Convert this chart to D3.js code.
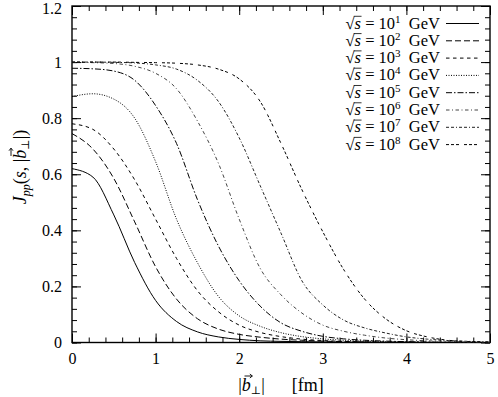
<!DOCTYPE html>
<html>
<head>
<meta charset="utf-8">
<script src="https://cdn.jsdelivr.net/npm/d3@7"></script>
<style>
  body { margin: 0; background: #fff; }
  svg text { font-family: "Liberation Serif", "DejaVu Serif", serif !important; fill: #000; }
</style>
</head>
<body>
<div id="chart"></div>
<script>
// impact parameter grid [fm]
const bValues = [0, 0.25, 0.5, 0.75, 1, 1.25, 1.5, 1.75, 2, 2.25, 2.5, 2.75, 3, 3.25, 3.5, 3.75, 4, 4.25, 4.5, 4.75, 5];

// J_pp(s, |b|), one array per energy
const j1e1 = [0.62, 0.59, 0.455, 0.285, 0.15, 0.075, 0.038, 0.02, 0.011, 0.006, 0.004, 0.003, 0.002, 0.001, 0.001, 0, 0, 0, 0, 0, 0];
const j1e2 = [0.745, 0.69, 0.585, 0.43, 0.27, 0.155, 0.085, 0.048, 0.029, 0.019, 0.012, 0.008, 0.005, 0.003, 0.002, 0.001, 0.001, 0, 0, 0, 0];
const j1e3 = [0.78, 0.76, 0.69, 0.58, 0.44, 0.3, 0.185, 0.11, 0.062, 0.036, 0.021, 0.012, 0.007, 0.004, 0.002, 0.001, 0.001, 0, 0, 0, 0];
const j1e4 = [0.877, 0.887, 0.868, 0.8, 0.645, 0.44, 0.285, 0.165, 0.095, 0.058, 0.035, 0.021, 0.013, 0.008, 0.005, 0.003, 0.002, 0.001, 0.001, 0, 0];
const j1e5 = [0.978, 0.976, 0.968, 0.935, 0.845, 0.71, 0.51, 0.345, 0.22, 0.13, 0.07, 0.04, 0.022, 0.013, 0.008, 0.005, 0.003, 0.002, 0.001, 0.001, 0];
const j1e6 = [0.999, 0.998, 0.995, 0.985, 0.96, 0.905, 0.79, 0.64, 0.44, 0.265, 0.17, 0.105, 0.062, 0.04, 0.026, 0.016, 0.01, 0.006, 0.004, 0.002, 0.001];
const j1e7 = [1.0, 1.0, 0.999, 0.997, 0.99, 0.975, 0.935, 0.86, 0.73, 0.56, 0.39, 0.22, 0.134, 0.08, 0.052, 0.034, 0.02, 0.012, 0.007, 0.004, 0.002];
const j1e8 = [1.0, 1.0, 1.0, 0.999, 0.998, 0.996, 0.99, 0.975, 0.94, 0.86, 0.71, 0.545, 0.395, 0.26, 0.155, 0.085, 0.042, 0.02, 0.008, 0.003, 0.001];

const exponents = ["1", "2", "3", "4", "5", "6", "7", "8"];
const seriesValues = [j1e1, j1e2, j1e3, j1e4, j1e5, j1e6, j1e7, j1e8];

const xTicks = [0, 1, 2, 3, 4, 5];
const yTicks = [0, 0.2, 0.4, 0.6, 0.8, 1, 1.2];

// line styles for each energy
const dashes = ["none", "6,3", "3.5,3.5", "1,1.5", "6,2,1.5,2", "3.5,2.5,1,2.5", "3,2,3,2,1,2", "3,2,3,2,3,5"];
const strokes = ["#000", "#000", "#000", "#000", "#000", "#444", "#222", "#000"];

const width = 498, height = 397;
const margin = { top: 6, right: 8, bottom: 54.5, left: 72 };
const innerW = width - margin.left - margin.right;
const innerH = height - margin.top - margin.bottom;

const svg = d3.select("#chart").append("svg")
  .attr("width", width)
  .attr("height", height)
  .attr("font-family", "Liberation Serif");

const chart = svg.append("g")
  .attr("transform", `translate(${margin.left},${margin.top})`);

const x = d3.scaleLinear().domain([0, 5]).range([0, innerW]);
const y = d3.scaleLinear().domain([0, 1.2]).range([innerH, 0]);

const xMinor = d3.range(0, 5.001, 0.2);
const yMinor = d3.range(0, 1.2001, 0.04);

// minor ticks on all four sides (pointing inward)
chart.append("g").attr("transform", `translate(0,${innerH})`)
  .call(d3.axisBottom(x).tickValues(xMinor).tickSize(-5).tickFormat(""));
chart.append("g")
  .call(d3.axisTop(x).tickValues(xMinor).tickSize(-5).tickFormat(""));
chart.append("g")
  .call(d3.axisLeft(y).tickValues(yMinor).tickSize(-5).tickFormat(""));
chart.append("g").attr("transform", `translate(${innerW},0)`)
  .call(d3.axisRight(y).tickValues(yMinor).tickSize(-5).tickFormat(""));

// major ticks + labels
chart.append("g").attr("class", "x-axis").attr("transform", `translate(0,${innerH})`)
  .call(d3.axisBottom(x).tickValues(xTicks).tickSize(-9).tickPadding(10).tickFormat(d3.format("d")));
chart.append("g")
  .call(d3.axisTop(x).tickValues(xTicks).tickSize(-9).tickFormat(""));
chart.append("g").attr("class", "y-axis")
  .call(d3.axisLeft(y).tickValues(yTicks).tickSize(-9).tickPadding(10).tickFormat(d => d === 0 || d === 1 ? String(d) : d.toFixed(1)));
chart.append("g").attr("transform", `translate(${innerW},0)`)
  .call(d3.axisRight(y).tickValues(yTicks).tickSize(-9).tickFormat(""));

chart.selectAll(".domain").remove();
chart.selectAll(".tick line").attr("stroke", "#000").attr("stroke-width", 1);
chart.selectAll("g").attr("font-family", null);
chart.selectAll(".tick text").style("font-size", "16px");
chart.select(".y-axis").selectAll(".tick text").filter(d => d === 1.2).attr("dy", "0.45em");

// frame
chart.append("rect")
  .attr("width", innerW).attr("height", innerH)
  .attr("fill", "none").attr("stroke", "#000").attr("stroke-width", 1.4);

// curves
const line = d3.line()
  .x((d, i) => x(bValues[i]))
  .y(d => y(d))
  .curve(d3.curveMonotoneX);

chart.selectAll(".curve")
  .data(seriesValues)
  .join("path")
  .attr("class", "curve")
  .attr("d", d => line(d))
  .attr("fill", "none")
  .attr("stroke", (d, i) => strokes[i])
  .attr("stroke-width", 1)
  .attr("stroke-dasharray", (d, i) => dashes[i]);

// legend
const legend = svg.append("g").attr("class", "legend");
const rowY = i => 23.5 + i * 17.3;
const legendFont = 16.5;

const labels = legend.selectAll(".legend-text")
  .data(exponents)
  .join("text")
  .attr("class", "legend-text")
  .attr("x", 440)
  .attr("y", (d, i) => rowY(i) + 5)
  .attr("text-anchor", "end")
  .style("font-size", legendFont + "px");
labels.append("tspan").text("\u221A");
labels.append("tspan").style("font-style", "italic").text("s");
labels.append("tspan").text(" = 10");
labels.append("tspan").attr("dy", -6).style("font-size", "11px").text(d => d);
labels.append("tspan").attr("dy", 6).text("\u2002GeV");

// radical bar over the s
labels.each(function (d, i) {
  const r = this.getExtentOfChar(0), s = this.getExtentOfChar(1);
  const yBar = rowY(i) + 5 - legendFont * 0.74;
  legend.append("line")
    .attr("x1", r.x + r.width - 0.8).attr("x2", s.x + s.width + 0.5)
    .attr("y1", yBar).attr("y2", yBar)
    .attr("stroke", "#000").attr("stroke-width", 0.8);
});

legend.selectAll(".legend-line")
  .data(exponents)
  .join("line")
  .attr("class", "legend-line")
  .attr("x1", 446).attr("x2", 479)
  .attr("y1", (d, i) => rowY(i)).attr("y2", (d, i) => rowY(i))
  .attr("stroke", (d, i) => strokes[i])
  .attr("stroke-width", 1)
  .attr("stroke-dasharray", (d, i) => dashes[i]);

// small vector arrow drawn above a glyph of a text element
function arrowOver(g, textNode, charIndex) {
  const box = textNode.getExtentOfChar(charIndex);
  const x0 = box.x + box.width * 0.3, x1 = box.x + box.width + 1.5;
  const yA = box.y + 1;
  g.append("line").attr("x1", x0).attr("x2", x1).attr("y1", yA).attr("y2", yA)
    .attr("stroke", "#000").attr("stroke-width", 0.9);
  g.append("path").attr("d", `M${x1 - 2.5},${yA - 2}L${x1},${yA}L${x1 - 2.5},${yA + 2}`)
    .attr("fill", "none").attr("stroke", "#000").attr("stroke-width", 0.9);
}

// axis titles
const xTitleG = svg.append("g");
const xTitle = xTitleG.append("text")
  .attr("x", 281).attr("y", 391)
  .attr("text-anchor", "middle")
  .style("font-size", "18px");
xTitle.append("tspan").text("|");
xTitle.append("tspan").style("font-style", "italic").text("b");
xTitle.append("tspan").attr("dy", 3).style("font-size", "11px").text("\u22A5");
xTitle.append("tspan").attr("dy", -3).text("|\u2003\u2002[fm]");
arrowOver(xTitleG, xTitle.node(), 1);

const yTitleG = svg.append("g").attr("transform", "translate(26,167) rotate(-90)");
const yTitle = yTitleG.append("text")
  .attr("text-anchor", "middle")
  .style("font-size", "18px");
yTitle.append("tspan").style("font-style", "italic").text("J");
yTitle.append("tspan").attr("dy", 4).style("font-style", "italic").style("font-size", "12px").text("pp");
yTitle.append("tspan").attr("dy", -4).text("(");
yTitle.append("tspan").style("font-style", "italic").text("s");
yTitle.append("tspan").text(", |");
yTitle.append("tspan").style("font-style", "italic").text("b");
yTitle.append("tspan").attr("dy", 3).style("font-size", "11px").text("\u22A5");
yTitle.append("tspan").attr("dy", -3).text("|)");
arrowOver(yTitleG, yTitle.node(), 8);
</script>
</body>
</html>
